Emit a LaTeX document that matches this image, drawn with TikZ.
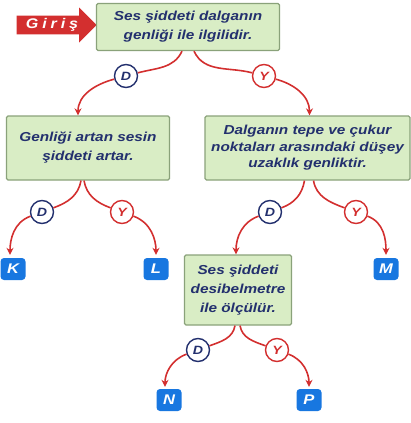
\documentclass[tikz,border=0pt]{standalone}
\usepackage{fontspec}
\setmainfont{Liberation Sans}
\newfontfamily\boxfont[FakeStretch=1.18]{Liberation Sans}
\newfontfamily\spacedfont[LetterSpace=28,FakeStretch=1.15]{Liberation Sans}
\usetikzlibrary{arrows.meta,shapes.arrows}
\definecolor{navy}{HTML}{23306E}
\definecolor{boxfill}{HTML}{D9EDC5}
\definecolor{boxline}{HTML}{8AA27A}
\definecolor{linkred}{HTML}{D32F2F}
\definecolor{leafblue}{HTML}{1877E0}
\tikzset{
  infobox/.style={draw=boxline,fill=boxfill,line width=1.3pt,rounded corners=1.5pt,align=center,
    text=navy,font=\boxfont\fontsize{13}{19}\selectfont\bfseries\itshape,inner sep=2pt},
  yes/.style={circle,draw=navy,fill=white,line width=1.4pt,minimum size=23pt,inner sep=0pt,
    text=navy,font=\boxfont\fontsize{12}{12}\selectfont\bfseries\itshape},
  no/.style={yes,draw=linkred,text=linkred},
  leaf/.style={fill=leafblue,rounded corners=3.5pt,minimum width=25pt,minimum height=22pt,inner sep=0pt,
    text=white,font=\boxfont\fontsize{14}{14}\selectfont\bfseries\itshape},
  link/.style={draw=linkred,line width=1.6pt,-{Stealth[length=7pt,width=7pt]}},
  plain/.style={draw=linkred,line width=1.6pt}
}
\begin{document}
\begin{tikzpicture}[x=1pt,y=-1pt]
  \useasboundingbox (0,0) rectangle (411,423);
  \node[single arrow,fill=linkred,single arrow head extend=7.5pt,single arrow head indent=0pt,
    minimum height=80pt,minimum width=35pt,inner sep=2pt,text=white,
    font=\spacedfont\fontsize{14}{14}\selectfont\bfseries\itshape] (giris) at (52,25) {Giriş};
  \node[infobox,minimum width=183pt,minimum height=47pt] (top) at (188,27) {Ses şiddeti dalganın\\genliği ile ilgilidir.};
  \node[yes] (d1) at (126,76) {D};
  \node[no] (y1) at (264,76) {Y};
  \node[infobox,minimum width=163pt,minimum height=64pt] (b2) at (88,148) {Genliği artan sesin\\şiddeti artar.};
  \node[infobox,minimum width=205pt,minimum height=64pt,font=\boxfont\fontsize{13}{16.5}\selectfont\bfseries\itshape] (b3) at (307.5,148) {Dalganın tepe ve çukur\\noktaları arasındaki düşey\\uzaklık genliktir.};
  \node[yes] (d2) at (42,212) {D};
  \node[no] (y2) at (122,212) {Y};
  \node[yes] (d3) at (270,212) {D};
  \node[no] (y3) at (356,212) {Y};
  \node[leaf] (K) at (13,269) {K};
  \node[leaf] (L) at (156,269) {L};
  \node[leaf] (M) at (386,269) {M};
  \node[infobox,minimum width=107pt,minimum height=70pt,font=\boxfont\fontsize{13}{19}\selectfont\bfseries\itshape] (b4) at (238,290) {Ses şiddeti\\desibelmetre\\ile ölçülür.};
  \node[yes] (d4) at (198,350) {D};
  \node[no] (y4) at (277,350) {Y};
  \node[leaf] (N) at (169,400) {N};
  \node[leaf] (P) at (309,400) {P};

  \draw[plain] ([xshift=-6pt]top.south) to[out=-115,in=15] (d1);
  \draw[link] (d1) to[out=195,in=90] ([xshift=-10pt]b2.north);
  \draw[plain] ([xshift=6pt]top.south) to[out=-65,in=165] (y1);
  \draw[link] (y1) to[out=-15,in=90] ([xshift=2pt]b3.north);

  \draw[plain] ([xshift=-7pt]b2.south) to[out=-100,in=20] (d2);
  \draw[link,shorten >=3pt] (d2) to[out=200,in=90] ([xshift=-3pt]K.north);
  \draw[plain] ([xshift=-4pt]b2.south) to[out=-80,in=160] (y2);
  \draw[link,shorten >=3pt] (y2) to[out=-20,in=90] (L.north);

  \draw[plain] ([xshift=-3pt]b3.south) to[out=-100,in=20] (d3);
  \draw[link] (d3) to[out=200,in=90] ([xshift=-2pt]b4.north);
  \draw[plain] ([xshift=6pt]b3.south) to[out=-80,in=160] (y3);
  \draw[link,shorten >=3pt] (y3) to[out=-20,in=90] (M.north);

  \draw[plain] ([xshift=-3pt]b4.south) to[out=-100,in=20] (d4);
  \draw[link,shorten >=2pt] (d4) to[out=200,in=90] ([xshift=-4pt]N.north);
  \draw[plain] ([xshift=2pt]b4.south) to[out=-80,in=160] (y4);
  \draw[link,shorten >=2pt] (y4) to[out=-20,in=90] (P.north);
\end{tikzpicture}
\end{document}
